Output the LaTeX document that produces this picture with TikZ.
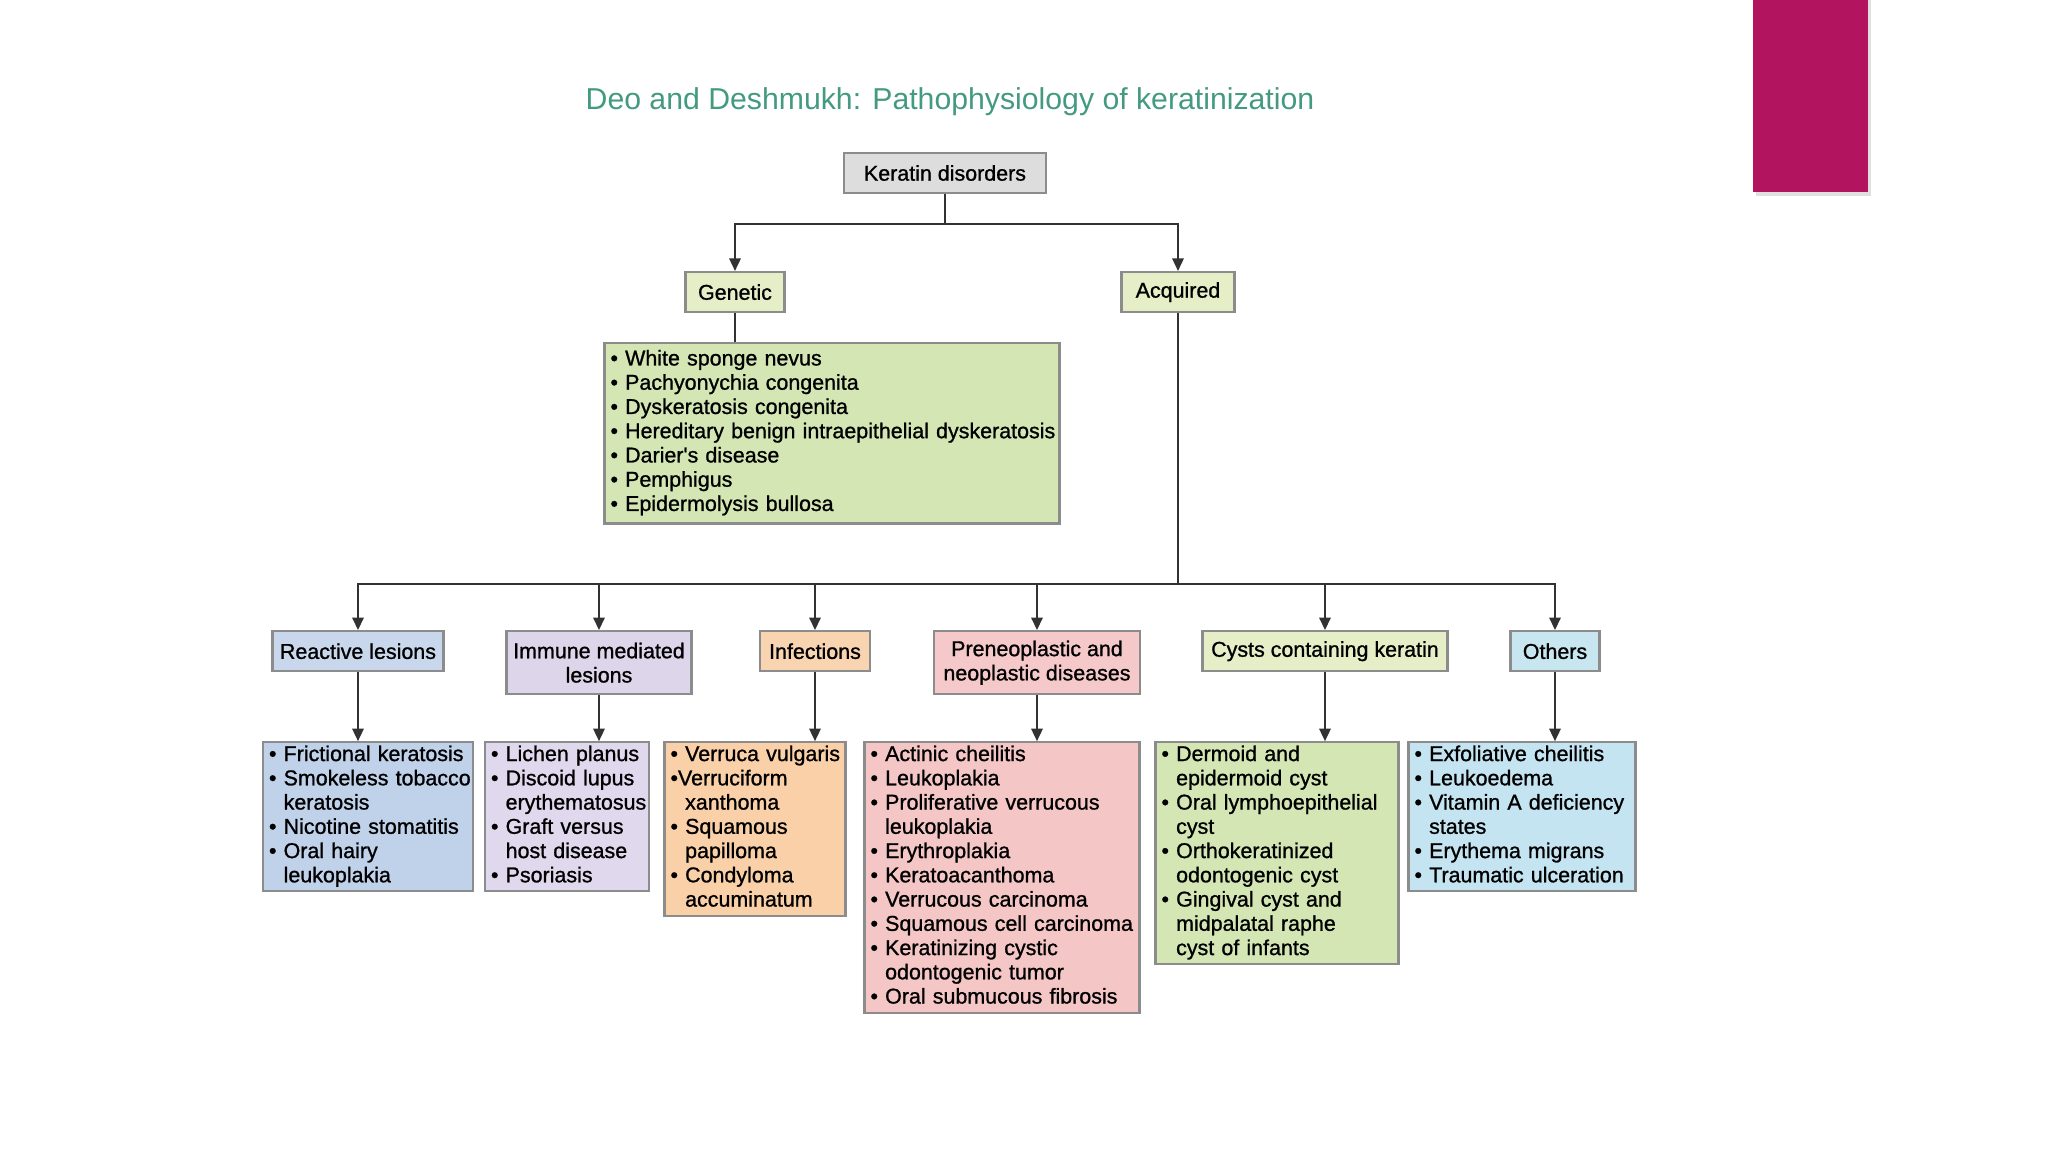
\documentclass[tikz,border=0pt]{standalone}
\usepackage{fontspec}
\setmainfont{Liberation Sans}
\newfontfamily\heavysans[FakeBold=1.0]{Liberation Sans}
\usepackage{xcolor}
\usetikzlibrary{arrows.meta, positioning}
\definecolor{titleteal}{RGB}{67,154,128}
\definecolor{edgegray}{RGB}{140,140,140}
\definecolor{wiregray}{RGB}{50,50,50}
\definecolor{rootgray}{RGB}{221,221,221}
\definecolor{palegreen}{RGB}{229,238,198}
\definecolor{listgreen}{RGB}{212,230,180}
\definecolor{reachead}{RGB}{201,215,236}
\definecolor{reaclist}{RGB}{192,209,234}
\definecolor{immuhead}{RGB}{221,213,234}
\definecolor{immulist}{RGB}{224,216,236}
\definecolor{infehead}{RGB}{249,212,176}
\definecolor{infelist}{RGB}{249,208,168}
\definecolor{prenhead}{RGB}{245,201,201}
\definecolor{prenlist}{RGB}{245,198,198}
\definecolor{othhead}{RGB}{200,230,239}
\definecolor{othlist}{RGB}{197,228,241}
\definecolor{accent}{RGB}{179,20,96}
\newcommand{\boxfont}{\heavysans\fontsize{6.1}{6.9}\selectfont}
\tikzset{
    catbox/.style={rectangle, draw=edgegray, line width=0.6pt, align=center, inner sep=1pt, minimum height=0.40cm, font=\boxfont},
    listbox/.style={rectangle, draw=edgegray, line width=0.6pt, align=left, inner xsep=0.06cm, inner ysep=0.5pt, font=\boxfont},
    arrow/.style={-{Triangle[length=3.6pt, width=3.2pt]}, draw=wiregray, line width=0.7pt},
    link/.style={draw=wiregray, line width=0.7pt},
}

\begin{document}
\begin{tikzpicture}
        \useasboundingbox (0,0) rectangle (20.48,-11.52);
        % Slide decoration
        \fill[black!12] (17.56,0) rectangle (18.71,-1.96);
        \fill[accent] (17.53,0) rectangle (18.68,-1.92);
        \node[font=\fontsize{8.6}{10}\selectfont, text=titleteal] (title) at (9.50,-1.02) {Deo and Deshmukh: Pathophysiology of keratinization};

        % Top levels
        \node [catbox, fill=rootgray, minimum width=2.02cm, minimum height=0.40cm] (root) at (9.45,-1.73) {Keratin disorders};
        \node [catbox, fill=palegreen, minimum width=0.99cm, below=0.77cm of root, xshift=-2.10cm] (gen) {Genetic};
        \node [catbox, fill=palegreen, minimum width=1.13cm, below=0.77cm of root, xshift=2.33cm] (acq) {Acquired};
        \node [listbox, fill=listgreen, text width=4.43cm, inner ysep=1.5pt, below=0.29cm of gen, xshift=0.97cm] (gen-list) {%
            \begin{tabular}{@{}l@{\ }l@{}}
            \textbullet & White sponge nevus\\
            \textbullet & Pachyonychia congenita\\
            \textbullet & Dyskeratosis congenita\\
            \textbullet & Hereditary benign intraepithelial dyskeratosis\\
            \textbullet & Darier's disease\\
            \textbullet & Pemphigus\\
            \textbullet & Epidermolysis bullosa
            \end{tabular}};

        % Acquired groups
        \node [catbox, fill=reachead, minimum width=1.71cm, below=3.17cm of acq, xshift=-8.20cm] (reac) {Reactive lesions};
        \node [catbox, fill=immuhead, minimum width=1.85cm, minimum height=0.63cm, below=3.17cm of acq, xshift=-5.79cm] (immu) {Immune mediated\\lesions};
        \node [catbox, fill=infehead, minimum width=1.10cm, below=3.17cm of acq, xshift=-3.63cm] (infe) {Infections};
        \node [catbox, fill=prenhead, minimum width=2.06cm, minimum height=0.63cm, below=3.17cm of acq, xshift=-1.41cm] (pren) {Preneoplastic and\\neoplastic diseases};
        \node [catbox, fill=palegreen, minimum width=2.45cm, below=3.17cm of acq, xshift=1.47cm] (cyst) {Cysts containing keratin};
        \node [catbox, fill=othhead, minimum width=0.89cm, below=3.17cm of acq, xshift=3.77cm] (oth) {Others};

        % Lists
        \node [listbox, fill=reaclist, text width=1.98cm, below=0.69cm of reac, xshift=0.10cm] (reac-list) {%
            \begin{tabular}{@{}l@{\ }l@{}}
            \textbullet & Frictional keratosis\\
            \textbullet & Smokeless tobacco\\
            & keratosis\\
            \textbullet & Nicotine stomatitis\\
            \textbullet & Oral hairy\\
            & leukoplakia
            \end{tabular}};
        \node [listbox, fill=immulist, text width=1.52cm, below=0.46cm of immu, xshift=-0.32cm] (immu-list) {%
            \begin{tabular}{@{}l@{\ }l@{}}
            \textbullet & Lichen planus\\
            \textbullet & Discoid lupus\\
            & erythematosus\\
            \textbullet & Graft versus\\
            & host disease\\
            \textbullet & Psoriasis
            \end{tabular}};
        \node [listbox, fill=infelist, text width=1.69cm, below=0.69cm of infe, xshift=-0.60cm] (infe-list) {%
            \begin{tabular}{@{}l@{\ }l@{}}
            \textbullet & Verruca vulgaris\\
            \multicolumn{2}{@{}l@{}}{\textbullet Verruciform}\\
            & xanthoma\\
            \textbullet & Squamous\\
            & papilloma\\
            \textbullet & Condyloma\\
            & accuminatum
            \end{tabular}};
        \node [listbox, fill=prenlist, text width=2.63cm, below=0.46cm of pren, xshift=-0.35cm] (pren-list) {%
            \begin{tabular}{@{}l@{\ }l@{}}
            \textbullet & Actinic cheilitis\\
            \textbullet & Leukoplakia\\
            \textbullet & Proliferative verrucous\\
            & leukoplakia\\
            \textbullet & Erythroplakia\\
            \textbullet & Keratoacanthoma\\
            \textbullet & Verrucous carcinoma\\
            \textbullet & Squamous cell carcinoma\\
            \textbullet & Keratinizing cystic\\
            & odontogenic tumor\\
            \textbullet & Oral submucous fibrosis
            \end{tabular}};
        \node [listbox, fill=listgreen, text width=2.31cm, below=0.69cm of cyst, xshift=-0.48cm] (cyst-list) {%
            \begin{tabular}{@{}l@{\ }l@{}}
            \textbullet & Dermoid and\\
            & epidermoid cyst\\
            \textbullet & Oral lymphoepithelial\\
            & cyst\\
            \textbullet & Orthokeratinized\\
            & odontogenic cyst\\
            \textbullet & Gingival cyst and\\
            & midpalatal raphe\\
            & cyst of infants
            \end{tabular}};
        \node [listbox, fill=othlist, text width=2.15cm, below=0.69cm of oth, xshift=-0.33cm] (oth-list) {%
            \begin{tabular}{@{}l@{\ }l@{}}
            \textbullet & Exfoliative cheilitis\\
            \textbullet & Leukoedema\\
            \textbullet & Vitamin A deficiency\\
            & states\\
            \textbullet & Erythema migrans\\
            \textbullet & Traumatic ulceration
            \end{tabular}};

        % Edges
        \coordinate [below=0.30cm of root] (split);
        \coordinate [below=2.71cm of acq] (hub);
        \draw [link] (root) -- (split);
        \draw [arrow] (split) -| (gen);
        \draw [arrow] (split) -| (acq);
        \draw [link] (gen) -- (gen |- gen-list.north);
        \draw [link] (acq) -- (hub);
        \foreach \grp in {reac, immu, infe, pren, cyst, oth} {
            \draw [arrow] (hub) -| (\grp);
            \draw [arrow] (\grp) -- (\grp.south |- \grp-list.north);
        }
    \end{tikzpicture}
\end{document}
